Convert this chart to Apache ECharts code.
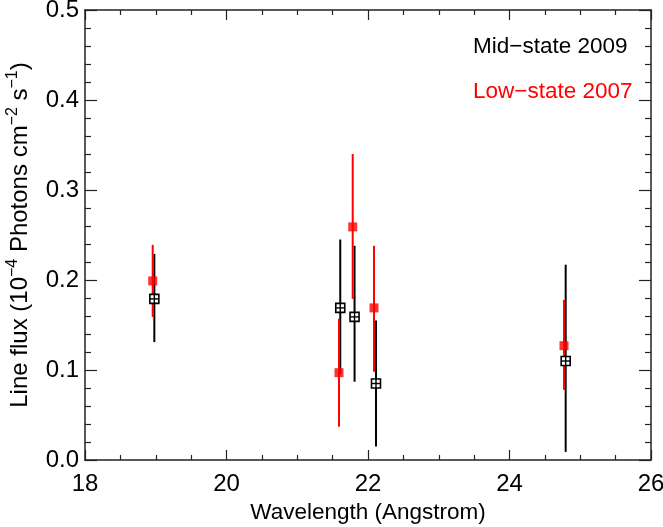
<!DOCTYPE html>
<html><head><meta charset="utf-8">
<script src="https://cdn.jsdelivr.net/npm/echarts@6/dist/echarts.min.js"></script>
<style>html,body{margin:0;padding:0;background:#fff}#c{width:663px;height:527px}</style>
</head><body><div id="c"></div>
<script>
// Low-state 2007 (red)
const lowX  = [18.957, 21.59, 21.784, 22.085, 24.77];
const lowY  = [0.199, 0.097, 0.259, 0.169, 0.127];
const lowLo = [0.159, 0.037, 0.179, 0.098, 0.078];
const lowHi = [0.239, 0.157, 0.340, 0.238, 0.178];
// Mid-state 2009 (black)
const midX  = [18.98, 21.608, 21.81, 22.113, 24.794];
const midY  = [0.179, 0.169, 0.159, 0.085, 0.110];
const midLo = [0.131, 0.095, 0.087, 0.015, 0.009];
const midHi = [0.229, 0.245, 0.238, 0.155, 0.217];
const legendLabels = ['Mid\u2212state 2009', 'Low\u2212state 2007'];

const FONT = '"Liberation Sans", Arial, Helvetica, sans-serif';
const AX = '#222';

function bars(xs, lo, hi){ return xs.map((x,i)=>[x, lo[i], hi[i]]); }
function pts(xs, ys){ return xs.map((x,i)=>[x, ys[i]]); }

function errRender(color){
  return function(params, api){
    const a = api.coord([api.value(0), api.value(1)]);
    const b = api.coord([api.value(0), api.value(2)]);
    return {type:'line', shape:{x1:a[0], y1:a[1], x2:b[0], y2:b[1]}, style:{stroke:color, lineWidth:2}};
  };
}
function openSquare(params, api){
  const c = api.coord([api.value(0), api.value(1)]);
  const h = 4.5;
  return {type:'group', children:[
    {type:'rect', shape:{x:c[0]-h, y:c[1]-h, width:2*h, height:2*h}, style:{fill:'#fff', stroke:'#000', lineWidth:1.6}},
    {type:'line', shape:{x1:c[0], y1:c[1]-h, x2:c[0], y2:c[1]+h}, style:{stroke:'#000', lineWidth:1.4}},
    {type:'line', shape:{x1:c[0]-h, y1:c[1], x2:c[0]+h, y2:c[1]}, style:{stroke:'#000', lineWidth:1.4}}
  ]};
}

const xBase = {type:'value', min:18, max:26, interval:2,
  axisLine:{show:true, onZero:false, lineStyle:{color:AX, width:1.5}},
  axisTick:{show:true, inside:true, length:10, lineStyle:{color:AX, width:1.2}},
  minorTick:{show:true, splitNumber:4, length:5, lineStyle:{color:AX, width:1.2}},
  splitLine:{show:false}};
const yBase = {type:'value', min:0, max:0.5, interval:0.1,
  axisLine:{show:true, onZero:false, lineStyle:{color:AX, width:1.5}},
  axisTick:{show:true, inside:true, length:12, lineStyle:{color:AX, width:1.2}},
  minorTick:{show:true, splitNumber:5, length:6, lineStyle:{color:AX, width:1.2}},
  splitLine:{show:false}};

const chart = echarts.init(document.getElementById('c'), null, {renderer:'canvas'});
chart.setOption({
  animation:false,
  backgroundColor:'#fff',
  grid:{left:85, right:12, top:10, bottom:67, containLabel:false, outerBoundsMode:'none'},
  xAxis:[
    Object.assign({}, xBase, {position:'bottom',
      axisLabel:{show:true, margin:12, fontSize:24, color:'#000', fontFamily:FONT},
      name:'Wavelength (Angstrom)', nameLocation:'middle', nameGap:40,
      nameTextStyle:{fontSize:22.5, color:'#000', fontFamily:FONT}}),
    Object.assign({}, xBase, {position:'top', axisLabel:{show:false}})
  ],
  yAxis:[
    Object.assign({}, yBase, {position:'left',
      axisLabel:{show:true, margin:6, fontSize:24, color:'#000', fontFamily:FONT, formatter:v=>v.toFixed(1)},
      name:'{n|Line flux (10}{s|\u22124}{n| Photons cm}{s|\u22122}{n| s}{s|\u22121}{n|)}',
      nameLocation:'middle', nameGap:50, nameRotate:90,
      nameTextStyle:{color:'#000', fontFamily:FONT, rich:{
        n:{fontSize:24, color:'#000', fontFamily:FONT, lineHeight:30, verticalAlign:'middle'},
        s:{fontSize:16, color:'#000', fontFamily:FONT, lineHeight:16, verticalAlign:'top'}
      }}}),
    Object.assign({}, yBase, {position:'right', axisLabel:{show:false}})
  ],
  series:[
    {type:'custom', name:'midErr', renderItem:errRender('#000'), data:bars(midX, midLo, midHi), encode:{x:0, y:[1,2]}, z:2},
    {type:'custom', name:'lowErr', renderItem:errRender('#ff0000'), data:bars(lowX, lowLo, lowHi), encode:{x:0, y:[1,2]}, z:3},
    {type:'custom', name:legendLabels[0], renderItem:openSquare, data:pts(midX, midY), encode:{x:0, y:1}, z:4},
    {type:'scatter', name:legendLabels[1], symbol:'rect', symbolSize:9, itemStyle:{color:'#ff0000'}, data:pts(lowX, lowY), z:5}
  ],
  graphic:[
    {type:'text', x:473, y:47, style:{text:legendLabels[0], fill:'#000', font:'22.5px '+FONT, textVerticalAlign:'middle', verticalAlign:'middle'}},
    {type:'text', x:473, y:92, style:{text:legendLabels[1], fill:'#ff0000', font:'22.5px '+FONT, textVerticalAlign:'middle', verticalAlign:'middle'}}
  ]
});
</script></body></html>
